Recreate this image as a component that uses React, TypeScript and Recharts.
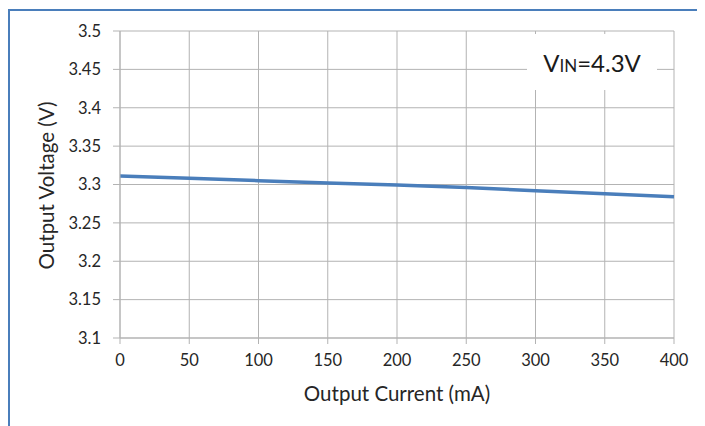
import React from "react";
import { LineChart, Line, XAxis, YAxis, CartesianGrid } from "recharts";

const currents = [0, 50, 100, 150, 200, 250, 300, 350, 400];
const voltages = [3.311, 3.308, 3.305, 3.302, 3.2995, 3.296, 3.292, 3.288, 3.284];
const xTicks = [0, 50, 100, 150, 200, 250, 300, 350, 400];
const yTicks = [3.1, 3.15, 3.2, 3.25, 3.3, 3.35, 3.4, 3.45, 3.5];

const data = currents.map((c, i) => ({ current: c, voltage: voltages[i] }));

const FONT = "Lato, 'Liberation Sans', sans-serif";
const GRID = "#b3b3b3";
const TEXT = "#262626";
const BLUE = "#4a7ebb";

export default function App() {
  return (
    <div style={{ position: "relative", width: 697, height: 418, fontFamily: FONT }}>
      <div
        style={{
          position: "absolute",
          left: 0,
          top: 1,
          right: -8,
          bottom: -8,
          borderLeft: `2px solid ${BLUE}`,
          borderTop: `2px solid ${BLUE}`,
        }}
      />
      <div style={{ position: "absolute", left: 0, top: 0 }}>
        <LineChart
          width={697}
          height={418}
          data={data}
          margin={{ top: 23, right: 31, left: 0, bottom: 0 }}
        >
          <CartesianGrid stroke={GRID} strokeWidth={1} />
          <XAxis
            dataKey="current"
            type="number"
            domain={[0, 400]}
            ticks={xTicks}
            height={88}
            stroke={GRID}
            tickSize={6}
            tickMargin={10}
            tick={{ fill: TEXT, fontSize: 16.5, fontFamily: FONT }}
            label={{
              content: (props: any) => {
                const vb = props.viewBox || {};
                return (
                  <text
                    x={vb.x + vb.width / 2}
                    y={vb.y + 63}
                    textAnchor="middle"
                    fill={TEXT}
                    fontSize={20.5}
                    fontFamily={FONT}
                  >
                    Output Current (mA)
                  </text>
                );
              },
            }}
          />
          <YAxis
            type="number"
            domain={[3.1, 3.5]}
            ticks={yTicks}
            width={112}
            stroke={GRID}
            tickSize={7}
            tickMargin={12}
            allowDataOverflow
            tickFormatter={(v: number) => String(Number(v.toFixed(2)))}
            tick={{ fill: TEXT, fontSize: 16.5, fontFamily: FONT }}
            label={{
              content: (props: any) => {
                const vb = props.viewBox || {};
                const cx = 38;
                const cy = vb.y + vb.height / 2 + 1;
                return (
                  <text
                    x={cx}
                    y={cy}
                    textAnchor="middle"
                    dominantBaseline="central"
                    transform={`rotate(-90 ${cx} ${cy})`}
                    fill={TEXT}
                    fontSize={20.5}
                    fontFamily={FONT}
                  >
                    Output Voltage (V)
                  </text>
                );
              },
            }}
          />
          <Line
            type="linear"
            dataKey="voltage"
            stroke={BLUE}
            strokeWidth={3.5}
            dot={false}
            isAnimationActive={false}
          />
        </LineChart>
      </div>
      <div
        style={{
          position: "absolute",
          left: 519,
          top: 26,
          width: 130,
          height: 56,
          background: "#fff",
          display: "flex",
          alignItems: "center",
          justifyContent: "center",
          color: "#1a1a1a",
          fontSize: 24,
          fontFamily: FONT,
        }}
      >
        <span>
          V<span style={{ fontSize: 17 }}>IN</span>=4.3V
        </span>
      </div>
    </div>
  );
}
